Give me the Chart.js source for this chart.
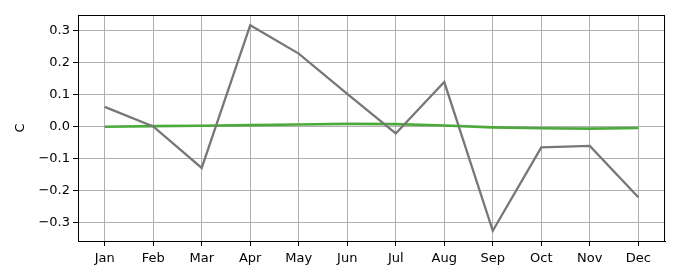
<!DOCTYPE html>
<html lang="en">
<head>
    <meta charset="UTF-8">
    <title>C by month</title>
    <style>
        body {
            margin: 0;
            background-color: white;
        }
        .chart-box {
            width: 680px;
            height: 280px;
        }
    </style>
</head>
<body>
    <div class="chart-box">
        <canvas id="lineChart" width="680" height="280"></canvas>
    </div>

    <script src="https://cdn.jsdelivr.net/npm/chart.js"></script>
    <script>
        // Data
        const months = ['Jan', 'Feb', 'Mar', 'Apr', 'May', 'Jun', 'Jul', 'Aug', 'Sep', 'Oct', 'Nov', 'Dec'];
        const grayValues = [0.061, 0.0, -0.130, 0.317, 0.228, 0.102, -0.022, 0.139, -0.327, -0.066, -0.061, -0.222];
        const greenValues = [-0.001, 0.001, 0.002, 0.004, 0.006, 0.008, 0.007, 0.003, -0.003, -0.006, -0.007, -0.005];
        const yTicks = [-0.3, -0.2, -0.1, 0.0, 0.1, 0.2, 0.3];

        const fontFamily = '"DejaVu Sans", sans-serif';

        // matplotlib draws a full box round the axes
        const frameBox = {
            id: 'frameBox',
            afterDatasetsDraw(chart) {
                const { ctx, chartArea } = chart;
                ctx.save();
                ctx.strokeStyle = '#000';
                ctx.lineWidth = 1;
                ctx.strokeRect(Math.round(chartArea.left) + 0.5, Math.round(chartArea.top) + 0.5,
                    Math.round(chartArea.right - chartArea.left) - 1, Math.round(chartArea.bottom - chartArea.top));
                ctx.restore();
            }
        };

        function toPoints(values) {
            return values.map((v, i) => ({ x: i, y: v }));
        }

        function minusSign(v) {
            let s = Math.abs(v) < 1e-9 ? '0.0' : v.toFixed(1);
            return s.replace('-', '\u2212');
        }

        const ctx = document.getElementById('lineChart').getContext('2d');
        new Chart(ctx, {
            type: 'line',
            data: {
                datasets: [{
                    data: toPoints(grayValues),
                    borderColor: '#777777',
                    borderWidth: 2.3,
                    pointRadius: 0,
                    tension: 0
                }, {
                    data: toPoints(greenValues),
                    borderColor: '#4caa3c',
                    borderWidth: 2.6,
                    pointRadius: 0,
                    tension: 0
                }]
            },
            options: {
                responsive: false,
                animation: false,
                layout: {
                    padding: { top: 15, right: 15, left: 0, bottom: 0 }
                },
                plugins: {
                    legend: { display: false },
                    tooltip: { enabled: false }
                },
                scales: {
                    x: {
                        type: 'linear',
                        min: -0.55,
                        max: 11.55,
                        afterBuildTicks(axis) {
                            axis.ticks = months.map((m, i) => ({ value: i }));
                        },
                        afterFit(axis) {
                            axis.height = 39;
                        },
                        ticks: {
                            callback: (value) => months[value],
                            color: '#000',
                            padding: 5,
                            maxRotation: 0,
                            font: { family: fontFamily, size: 13 }
                        },
                        grid: {
                            color: '#b0b0b0',
                            tickColor: '#000',
                            tickLength: 5,
                            lineWidth: 1
                        },
                        border: { color: '#000' }
                    },
                    y: {
                        min: -0.359,
                        max: 0.349,
                        afterBuildTicks(axis) {
                            axis.ticks = yTicks.map(v => ({ value: v }));
                        },
                        afterFit(axis) {
                            axis.width = 78;
                        },
                        title: {
                            display: true,
                            text: 'C',
                            color: '#000',
                            padding: { top: 13, bottom: 0 },
                            font: { family: fontFamily, size: 13 }
                        },
                        ticks: {
                            callback: (value) => minusSign(value),
                            color: '#000',
                            padding: 3,
                            font: { family: fontFamily, size: 13 }
                        },
                        grid: {
                            color: '#b0b0b0',
                            tickColor: '#000',
                            tickLength: 5,
                            lineWidth: 1
                        },
                        border: { color: '#000' }
                    }
                }
            },
            plugins: [frameBox]
        });
    </script>
</body>
</html>
